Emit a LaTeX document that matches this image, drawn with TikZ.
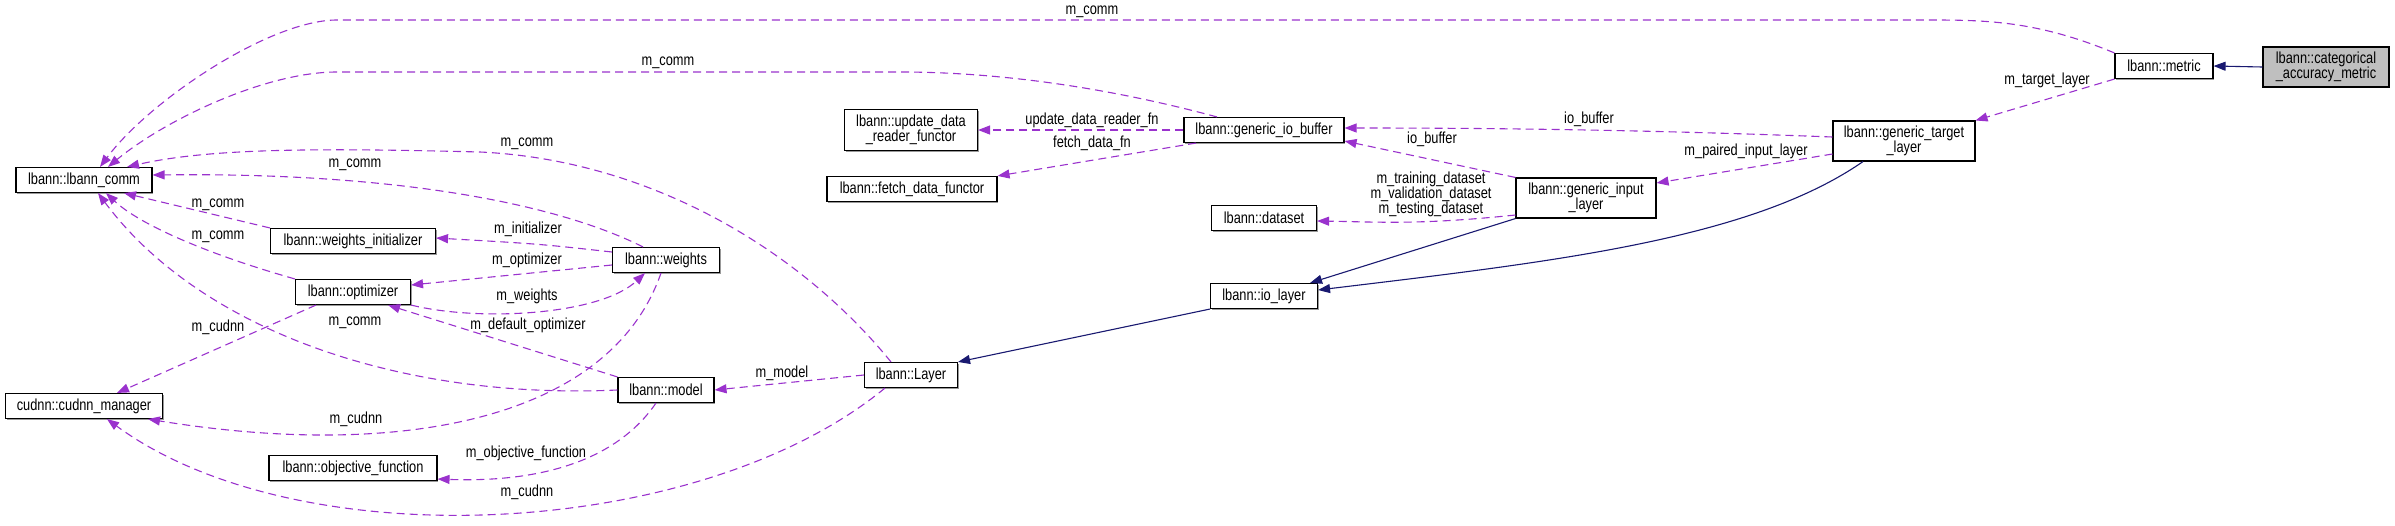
\documentclass[tikz,border=0pt]{standalone}
\usepackage{fontspec}
\setmainfont{Liberation Sans}[FakeStretch=0.8]
\usetikzlibrary{arrows.meta,shadows}
\definecolor{dxpurple}{HTML}{9A32CD}
\definecolor{dxnavy}{HTML}{191970}
\definecolor{dxgray}{HTML}{BFBFBF}
\newcommand{\dxfont}{\fontsize{16}{15}\selectfont}

\begin{document}
\begin{tikzpicture}[x=1pt, y=-1pt,
    cls/.style={draw=black, line width=1.1pt, fill=white, minimum height=25pt, inner sep=2pt, font=\dxfont, align=center,
        drop shadow={shadow xshift=1.2pt, shadow yshift=-1.2pt, fill=black!40, opacity=1}},
    member/.style={draw=dxpurple, line width=1.1pt, dash pattern=on 8pt off 5pt, -{Triangle[length=12pt, width=9pt]}},
    inherit/.style={draw=dxnavy, line width=1.1pt, -{Triangle[length=12pt, width=9pt]}},
    elabel/.style={font=\dxfont, inner sep=0pt, align=center}
]
    \path[use as bounding box] (0,0) rectangle (2395,525);

    % Classes
    \node[cls, minimum width=136pt] (comm) at (84,180) {lbann::lbann\_comm};
    \node[cls, minimum width=157pt] (cudnn) at (84,406) {cudnn::cudnn\_manager};
    \node[cls, minimum width=165pt] (winit) at (353,241) {lbann::weights\_initializer};
    \node[cls, minimum width=115pt] (optim) at (353,292) {lbann::optimizer};
    \node[cls, minimum width=168pt] (objfn) at (353,468) {lbann::objective\_function};
    \node[cls, minimum width=107pt] (weights) at (666,260) {lbann::weights};
    \node[cls, minimum width=96pt] (model) at (666,390) {lbann::model};
    \node[cls, minimum width=93pt] (layer) at (911,375) {lbann::Layer};
    \node[cls, minimum width=133pt, minimum height=41pt] (udrf) at (911,130) {lbann::update\_data\\\_reader\_functor};
    \node[cls, minimum width=170pt] (fdf) at (912,189) {lbann::fetch\_data\_functor};
    \node[cls, minimum width=160pt] (iobuf) at (1264,130) {lbann::generic\_io\_buffer};
    \node[cls, minimum width=105pt] (dataset) at (1264,218) {lbann::dataset};
    \node[cls, minimum width=107pt] (iolayer) at (1264,296) {lbann::io\_layer};
    \node[cls, minimum width=140pt, minimum height=40pt] (input) at (1586,198) {lbann::generic\_input\\\_layer};
    \node[cls, minimum width=142pt, minimum height=40pt] (target) at (1904,141) {lbann::generic\_target\\\_layer};
    \node[cls, minimum width=98pt] (metric) at (2164,66) {lbann::metric};
    \node[cls, minimum width=126pt, minimum height=40pt, fill=dxgray] (cam) at (2326,67) {lbann::categorical\\\_accuracy\_metric};

    % Inheritance
    \draw[inherit] (cam.west) -- (metric.east);
    \draw[inherit] (iolayer.south west) -- (layer.north east);
    \draw[inherit] (input.south west) -- ([xshift=-8pt]iolayer.north east);
    \draw[inherit] ([xshift=-41pt]target.south) .. controls (1750,240) and (1550,262) .. ([yshift=6pt]iolayer.east);

    % Members
    \draw[member] (metric.north west) .. controls (2040,22) and (1990,20) .. (1933,20) -- (337,20)
        .. controls (270,20) and (150,100) .. ([xshift=16pt]comm.north);
    \draw[member] ([xshift=-47pt]iobuf.north) .. controls (1110,88) and (1000,72) .. (900,72) -- (337,72)
        .. controls (265,72) and (165,120) .. ([xshift=24pt]comm.north);
    \draw[member] ([xshift=-20pt]layer.north) .. controls (800,250) and (650,160) .. (480,152)
        .. controls (320,148) and (210,148) .. ([xshift=43pt]comm.north);
    \draw[member] ([xshift=-23pt]weights.north) .. controls (570,210) and (420,172) .. ([yshift=5pt]comm.east);
    \draw[member] (winit.north west) -- ([xshift=40pt]comm.south);
    \draw[member] (optim.north west) .. controls (210,255) and (140,225) .. ([xshift=22pt]comm.south);
    \draw[member] (model.west) .. controls (400,400) and (200,330) .. ([xshift=14pt]comm.south);
    \draw[member] ([yshift=8pt]weights.west) .. controls (540,244) .. ([yshift=3pt]winit.east);
    \draw[member] ([yshift=-5pt]weights.west) -- ([yshift=7pt]optim.east);
    \draw[member] (optim.south east) .. controls (480,322) and (600,315) .. ([xshift=-21pt]weights.south);
    \draw[member] (model.north west) -- ([xshift=35pt]optim.south);
    \draw[member] ([xshift=-37pt]optim.south) -- ([xshift=33pt]cudnn.north);
    \draw[member] ([xshift=-5pt]weights.south) .. controls (610,420) and (400,460) .. ([xshift=64pt]cudnn.south);
    \draw[member] ([xshift=-26pt]layer.south) .. controls (700,540) and (300,560) .. ([xshift=23pt]cudnn.south);
    \draw[member] ([xshift=-10pt]model.south) .. controls (610,470) and (520,482) .. ([yshift=-11pt]objfn.east);
    \draw[member] (layer.west) -- (model.east);
    \draw[member] (iobuf.west) -- (udrf.east);
    \draw[member] ([xshift=-68pt]iobuf.south) -- (fdf.north east);
    \draw[member] (input.north west) -- ([yshift=-11pt]iobuf.east);
    \draw[member] ([yshift=4pt]target.west) .. controls (1650,130) and (1500,128) .. ([yshift=2pt]iobuf.east);
    \draw[member] ([yshift=-13pt]target.west) -- ([yshift=15pt]input.east);
    \draw[member] ([yshift=-17pt]input.west) .. controls (1420,225) and (1380,222) .. ([yshift=-3pt]dataset.east);
    \draw[member] (metric.south west) -- (target.north east);

    % Labels
    \node[elabel] (l-metric) at (1092,12) {m\_comm};
    \node[elabel] (l-iobuf) at (668,63) {m\_comm};
    \node[elabel] (l-layer) at (527,144) {m\_comm};
    \node[elabel] (l-weights) at (355,165) {m\_comm};
    \node[elabel] (l-winit) at (218,205) {m\_comm};
    \node[elabel] (l-optim) at (218,237) {m\_comm};
    \node[elabel] (l-init) at (528,229) {m\_initializer};
    \node[elabel] (l-opt) at (527,260) {m\_optimizer};
    \node[elabel] (l-wts) at (527,296) {m\_weights};
    \node[elabel] (l-optcudnn) at (218,327) {m\_cudnn};
    \node[elabel] (l-model) at (355,323) {m\_comm};
    \node[elabel] (l-defopt) at (528,325) {m\_default\_optimizer};
    \node[elabel] (l-wcudnn) at (356,419) {m\_cudnn};
    \node[elabel] (l-objfn) at (526,453) {m\_objective\_function};
    \node[elabel] (l-lcudnn) at (527,492) {m\_cudnn};
    \node[elabel] (l-mdl) at (782,373) {m\_model};
    \node[elabel] (l-udrf) at (1092,120) {update\_data\_reader\_fn};
    \node[elabel] (l-fdf) at (1092,143) {fetch\_data\_fn};
    \node[elabel] (l-inbuf) at (1432,139) {io\_buffer};
    \node[elabel] (l-tgbuf) at (1589,119) {io\_buffer};
    \node[elabel] (l-data) at (1431,194) {m\_training\_dataset\\m\_validation\_dataset\\m\_testing\_dataset};
    \node[elabel] (l-paired) at (1746,151) {m\_paired\_input\_layer};
    \node[elabel] (l-target) at (2047,80) {m\_target\_layer};
\end{tikzpicture}
\end{document}
